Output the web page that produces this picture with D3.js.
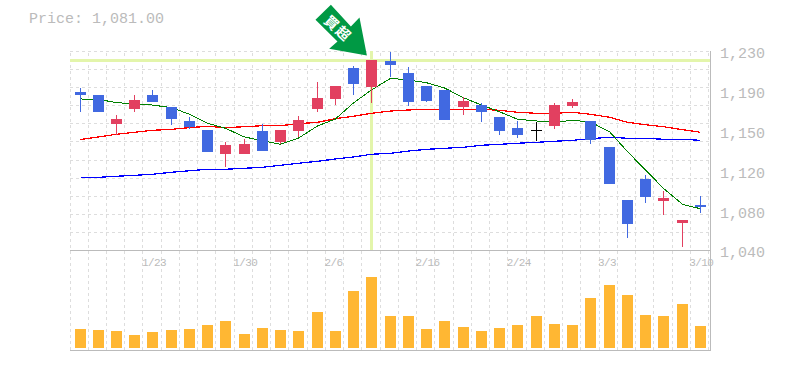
<!DOCTYPE html>
<html>
<head>
<meta charset="utf-8">
<script src="https://cdn.jsdelivr.net/npm/d3@7"></script>
<style>
  body { margin: 0; background: #fff; }
  svg { display: block; }
  text { font-family: "Liberation Mono", monospace; fill: #bbb; }
</style>
</head>
<body>
<svg id="chart" width="785" height="370"></svg>
<script>
// Candles
const opens = [1190.9, 1188, 1160.3, 1174.6, 1188, 1176.5, 1163.2, 1154.6, 1131.7, 1131.7, 1153.6, 1143.1, 1153.6, 1174.6, 1184.2, 1213.8, 1195.6, 1220.5, 1209, 1196.6, 1192.8, 1176.5, 1178.4, 1167, 1156.5, 1154.6, 1158.4, 1177.5, 1163.2, 1138.3, 1087.7, 1107.8, 1086.8, 1065.8, 1083];
const closes = [1188, 1171.8, 1165.1, 1183.2, 1181.3, 1165.1, 1157.4, 1133.6, 1140.3, 1141.2, 1134.5, 1154.6, 1164.1, 1185.1, 1196.6, 1198.5, 1221.4, 1216.6, 1181.3, 1182.3, 1164.1, 1182.3, 1171.8, 1153.6, 1149.8, 1154.6, 1178.4, 1181.3, 1145, 1103, 1064.8, 1090.6, 1089.6, 1068.6, 1081];
const highs = [1194.7, 1188, 1168.9, 1188, 1192.8, 1176.5, 1167, 1154.6, 1143.1, 1146, 1160.3, 1154.6, 1167.9, 1200.4, 1196.6, 1215.7, 1221.4, 1229, 1214.7, 1196.6, 1192.8, 1186.1, 1180.4, 1167, 1163.2, 1162.2, 1180.4, 1184.2, 1163.2, 1138.3, 1087.7, 1111.6, 1096.3, 1068.6, 1091.6];
const lows = [1171.8, 1171.8, 1149.8, 1171.8, 1181.3, 1159.4, 1155.5, 1133.6, 1119.2, 1131.7, 1134.5, 1141.2, 1147.9, 1171.8, 1178.4, 1188, 1180.4, 1205.2, 1177.5, 1181.3, 1164.1, 1168.9, 1162.2, 1149.8, 1146.9, 1144.1, 1155.5, 1175.6, 1141.2, 1103, 1051.5, 1084.9, 1073.4, 1042.9, 1075.3];

// Moving averages
const maShort = [1184.2, 1183.7, 1180.8, 1179.4, 1178.4, 1175.9, 1169.6, 1161, 1156.2, 1147.9, 1144.4, 1140.9, 1146.9, 1158.4, 1165.1, 1180.4, 1192.8, 1203.9, 1202.3, 1199.7, 1194.7, 1185.4, 1178.4, 1172, 1164.8, 1163.2, 1161.9, 1163.8, 1162.2, 1153, 1133.9, 1116.4, 1098.9, 1083.6, 1079.4];
const maMid = [1145.5, 1147.9, 1150.5, 1152.4, 1154.3, 1155.2, 1156.8, 1158.1, 1156.8, 1157.7, 1158.7, 1158.7, 1160.6, 1161.9, 1165.4, 1167.7, 1170.5, 1172.7, 1173.7, 1174.3, 1174.3, 1174.3, 1174.3, 1173.4, 1171.5, 1170.5, 1170.5, 1171.5, 1169.6, 1166.7, 1161.9, 1159.6, 1157.7, 1154.9, 1152.4];
const maLong = [1109.4, 1109.4, 1110.4, 1111.3, 1112.3, 1114.2, 1115.7, 1117.1, 1117.1, 1118, 1119, 1120.9, 1122.8, 1124.7, 1126.9, 1128.8, 1131.4, 1132.3, 1134.5, 1136.1, 1137.1, 1138.1, 1140, 1140.9, 1141.9, 1142.8, 1143.8, 1144.7, 1146.3, 1147.6, 1146.7, 1146.7, 1145.7, 1145.7, 1144.7];

const volumes = [19, 18, 17, 13, 16, 18, 19, 23, 27, 14, 20, 18, 17, 36, 17, 57, 71, 32, 32, 19, 27, 21, 17, 20, 23, 32, 24, 23, 50, 63, 53, 33, 32, 44, 22];

// Axis labels
const dateTicks = [4, 9, 14, 19, 24, 29, 34];
const dateLabels = ['1/23', '1/30', '2/6', '2/16', '2/24', '3/3', '3/10'];
const priceTicks = [1230, 1192, 1154, 1116, 1078, 1040];
const priceLabels = ['1,230', '1,190', '1,150', '1,120', '1,080', '1,040'];
const currentPrice = '1,081.00';
const markedDay = 16;
const markText = '買超';

const svg = d3.select('#chart');

const x = d3.scaleLinear().domain([0, 35]).range([70, 708.5]);
const y = d3.scaleLinear().domain([1040, 1230]).range([250, 51]);
const yVol = d3.scaleLinear().domain([0, 98]).range([348, 250]);

const barLeft = i => Math.floor(x(i) + 5);

// Dashed grid, vertical lines run through both panels
const vGrid = svg.append('g')
    .attr('transform', 'translate(-0.5,350)')
    .call(d3.axisBottom(x).tickValues(d3.range(36)).tickSize(-299).tickFormat(''));
const hGrid = svg.append('g')
    .attr('transform', 'translate(70,0)')
    .call(d3.axisLeft(y).tickValues(d3.range(12).map(i => 1040 + i * 190 / 11)).tickSize(-640).tickFormat(''));
[vGrid, hGrid].forEach(g => {
    g.select('.domain').remove();
    g.selectAll('line')
        .attr('stroke', '#ddd')
        .attr('stroke-dasharray', '3 3')
        .attr('shape-rendering', 'crispEdges');
});

// Highlight for the marked day
svg.append('rect').attr('x', 70).attr('width', 640).attr('y', Math.round(y(highs[markedDay])) - 1).attr('height', 3).attr('fill', '#e3f5ab');
svg.append('rect').attr('x', barLeft(markedDay) + 4).attr('width', 3).attr('y', 51).attr('height', 199).attr('fill', '#e3f5ab');

// Panel borders
const frame = svg.append('g').attr('stroke', '#bbb').attr('stroke-width', 1).attr('shape-rendering', 'crispEdges');
frame.append('line').attr('x1', 70).attr('x2', 711).attr('y1', 250.5).attr('y2', 250.5);
frame.append('line').attr('x1', 70).attr('x2', 711).attr('y1', 350.5).attr('y2', 350.5);
frame.append('line').attr('x1', 710.5).attr('x2', 710.5).attr('y1', 51).attr('y2', 351);

// Moving average lines
const maLine = d3.line()
    .x((d, i) => barLeft(i) + 5.5)
    .y(d => y(d));
[[maLong, '#0000ff', 1.25], [maMid, '#ff0000', 1.25], [maShort, '#008000', 1]].forEach(([vals, color, width]) => {
    svg.append('path')
        .attr('d', maLine(vals))
        .attr('fill', 'none')
        .attr('stroke', color)
        .attr('stroke-width', width)
        .attr('shape-rendering', 'crispEdges');
});

// Candles
function candleColor(i) {
    if (closes[i] > opens[i]) return '#e24060';
    if (closes[i] < opens[i]) return '#4169e1';
    return '#000';
}
const candles = svg.append('g').attr('shape-rendering', 'crispEdges')
    .selectAll('g')
    .data(opens)
    .enter()
    .append('g')
    .attr('fill', (d, i) => candleColor(i));
candles.append('rect')   // wick
    .attr('x', (d, i) => barLeft(i) + 5)
    .attr('width', 1)
    .attr('y', (d, i) => Math.round(y(highs[i])))
    .attr('height', (d, i) => Math.round(y(lows[i])) - Math.round(y(highs[i])));
candles.append('rect')   // body
    .attr('x', (d, i) => barLeft(i))
    .attr('width', 11)
    .attr('y', (d, i) => Math.round(y(Math.max(opens[i], closes[i]))))
    .attr('height', (d, i) => Math.max(1, Math.round(y(Math.min(opens[i], closes[i]))) - Math.round(y(Math.max(opens[i], closes[i])))));

// Volume bars
svg.append('g').attr('shape-rendering', 'crispEdges')
    .selectAll('rect')
    .data(volumes)
    .enter()
    .append('rect')
    .attr('x', (d, i) => barLeft(i))
    .attr('width', 11)
    .attr('y', d => yVol(d))
    .attr('height', d => yVol(0) - yVol(d))
    .attr('fill', '#ffb733');

// Price axis on the right
const priceAxis = svg.append('g')
    .attr('transform', 'translate(710,2)')
    .call(d3.axisRight(y).tickValues(priceTicks).tickSize(0).tickPadding(10).tickFormat((d, i) => priceLabels[i]));
priceAxis.select('.domain').remove();
priceAxis.selectAll('text').style('font-size', '15px').style('font-family', '"Liberation Mono", monospace').attr('fill', '#bbb');

// Date labels start at the grid line
const dateAxis = svg.append('g')
    .attr('transform', 'translate(-1.5,250)')
    .call(d3.axisBottom(x).tickValues(dateTicks).tickSize(0).tickPadding(0).tickFormat((d, i) => dateLabels[i]));
dateAxis.select('.domain').remove();
dateAxis.selectAll('text')
    .attr('text-anchor', 'start')
    .attr('y', 16)
    .attr('dy', 0)
    .style('font-size', '11px')
    .style('letter-spacing', '-0.6px')
    .style('font-family', '"Liberation Mono", monospace')
    .attr('fill', '#bbb');

svg.append('text')
    .attr('x', 29)
    .attr('y', 23)
    .style('font-size', '15px')
    .text('Price: ' + currentPrice);

// Arrow pointing at the marked candle
const tipX = x(markedDay) + 5;
const tipY = y(highs[markedDay]) - 4.5;
const arrow = svg.append('g').attr('transform', `translate(${tipX},${tipY})`);
arrow.append('polygon')
    .attr('points', '-36,-50.7 -16,-29 -7.4,-38 0,0 -37.7,-6.7 -29.4,-14 -51.4,-35.7')
    .attr('fill', '#009944');
arrow.append('text')
    .attr('transform', 'translate(-29,-27) rotate(43)')
    .attr('text-anchor', 'middle')
    .attr('dy', '0.36em')
    .style('font-family', '"Noto Sans CJK TC", sans-serif')
    .style('font-size', '14px')
    .style('letter-spacing', '1.5px')
    .style('font-weight', '700')
    .style('fill', '#fff')
    .text(markText);
</script>
</body>
</html>
